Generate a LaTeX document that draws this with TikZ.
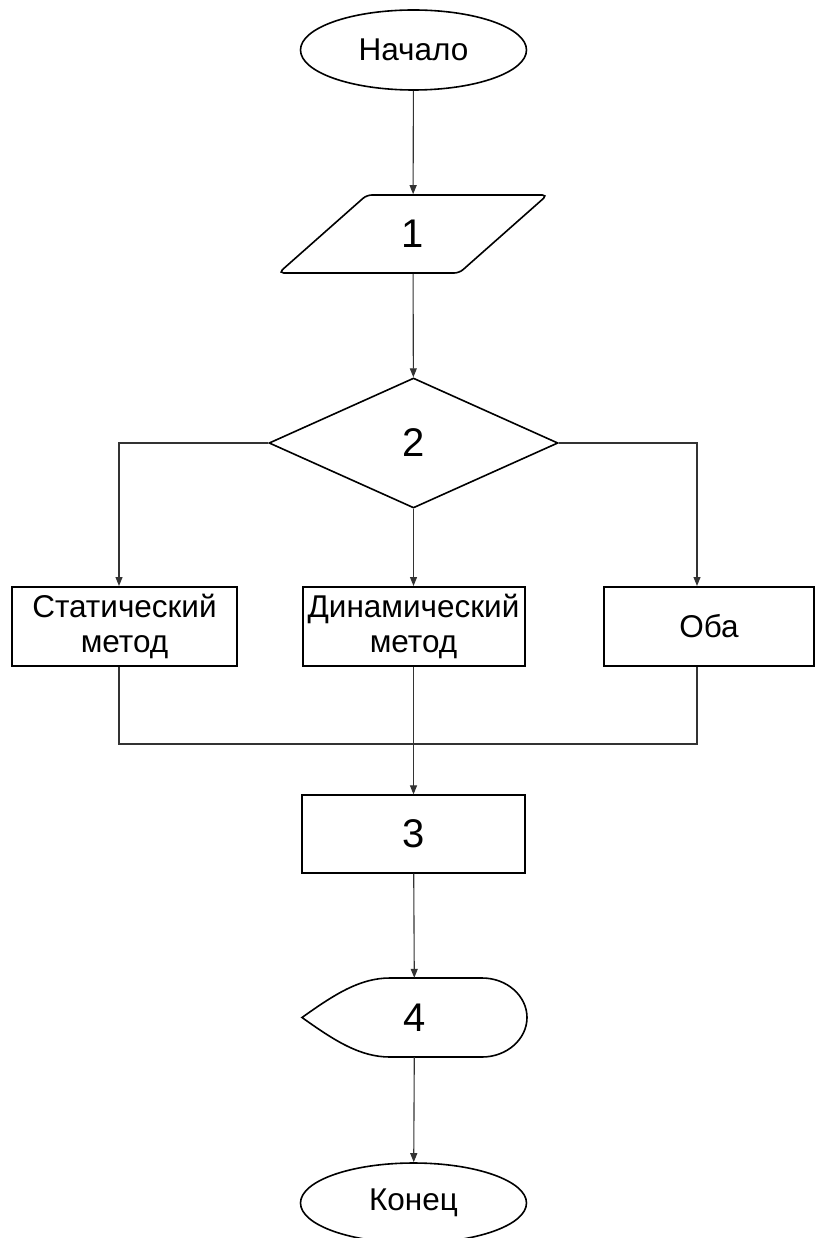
\documentclass[tikz,border=0pt]{standalone}
\usepackage{fontspec}
\setmainfont{Liberation Sans}
\usepackage{tikz}
\usetikzlibrary{shapes,arrows.meta}

\begin{document}
\begin{tikzpicture}[x=1pt,y=-1pt,
  txt/.style={font=\fontsize{31.5}{35}\selectfont},
  num/.style={font=\fontsize{40}{42}\selectfont},
  term/.style={draw,line width=1.6pt,ellipse,minimum width=226pt,minimum height=80pt,inner sep=0pt,txt},
  method/.style={draw,line width=2pt,rectangle,minimum height=79pt,inner sep=0pt,align=center,txt},
  arr/.style={draw=black!80,line width=1.1pt,-{Triangle[length=9pt,width=7pt]}},
  wire/.style={draw=black!80,line width=1.1pt}]
\useasboundingbox (0,0) rectangle (817,1238);
\node[term] (start) at (413.5,50) {Начало};
\node[trapezium,trapezium left angle=52.4,trapezium right angle=127.6,trapezium stretches=true,draw,line width=1.6pt,rounded corners=5pt,minimum width=270pt,minimum height=78pt,inner sep=0pt,num] (in1) at (413,234) {1};
\node[diamond,draw,line width=1.6pt,minimum width=289pt,minimum height=130pt,inner sep=0pt,num] (choice) at (413.5,443) {2};
\node[method,minimum width=225pt] (stat) at (124.5,626.5) {Статический\\метод};
\node[method,minimum width=222pt] (dyn) at (413.5,626.5) {Динамический\\метод};
\node[method,minimum width=210pt] (both) at (709,626.5) {Оба};
\node[draw,line width=1.2pt,minimum width=223pt,minimum height=78pt,inner sep=0pt,num] (calc) at (413.5,834) {3};
\node[num,minimum width=225pt,minimum height=79pt,inner sep=0pt] (out) at (414.5,1017.5) {4};
\draw[line width=1.6pt] (302,1017.5) .. controls (335,994) and (360,978) .. (390,978) -- (482,978)
  .. controls (507,978) and (527,996) .. (527,1017.5) .. controls (527,1039) and (507,1057) .. (482,1057)
  -- (390,1057) .. controls (360,1057) and (335,1041) .. cycle;
\node[term] (stop) at (413.5,1203) {Конец};

\draw[arr] (start) -- (in1);
\draw[arr] (in1) -- (choice);
\draw[arr] (choice.west) -| ([xshift=-5.5pt]stat.north);
\draw[arr] (choice) -- (dyn);
\draw[arr] (choice.east) -| ([xshift=-12pt]both.north);
\draw[wire] ([xshift=-5.5pt]stat.south) -- ++(0,77) -| ([xshift=-12pt]both.south);
\draw[arr] (dyn) -- (calc);
\draw[arr] (calc) -- (out);
\draw[arr] (out) -- (stop);
\end{tikzpicture}
\end{document}
